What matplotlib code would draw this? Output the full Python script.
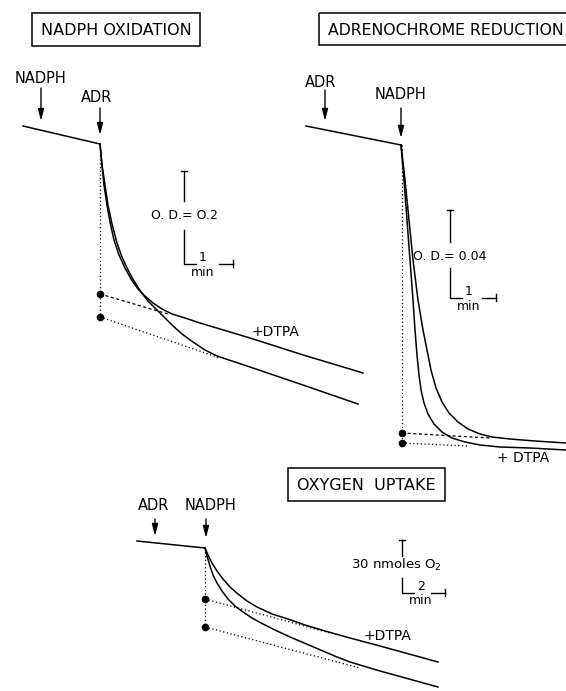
import numpy as np
import matplotlib.pyplot as plt
from matplotlib.patches import Rectangle

# Trace points (drawing units = pixels, y down)
# Panel 1: NADPH oxidation
p1_base_x = [23, 100]
p1_base_y = [126, 144]
p1_dtpa_x = [100, 102, 104, 107, 110, 114, 119, 125, 131, 138, 145, 153, 162, 172, 185, 200, 250, 300, 363]
p1_dtpa_y = [144, 165, 185, 205, 222, 240, 255, 268, 279, 289, 296, 303, 309, 314, 318, 323, 338, 354, 373]
p1_ctrl_x = [100, 102, 105, 108, 112, 117, 122, 128, 134, 141, 148, 155, 163, 172, 182, 193, 205, 217, 235, 250, 300, 358]
p1_ctrl_y = [144, 165, 185, 205, 224, 243, 257, 270, 281, 292, 301, 308, 316, 325, 334, 342, 350, 356, 362, 367, 384, 404]
p1_dots_y = [294, 317]

# Panel 2: adrenochrome reduction
p2_base_x = [306, 401]
p2_base_y = [126, 145]
p2_a_x = [401, 404, 407, 410, 413, 415, 417, 419, 421, 424, 428, 434, 442, 452, 465, 480, 500, 530, 566]
p2_a_y = [145, 180, 220, 260, 300, 330, 355, 375, 390, 403, 414, 424, 432, 438, 442, 445, 447, 448, 450]
p2_b_x = [401, 405, 409, 413, 418, 423, 427, 431, 436, 442, 449, 458, 468, 480, 492, 510, 535, 566]
p2_b_y = [145, 180, 220, 260, 300, 330, 350, 370, 388, 402, 413, 422, 429, 434, 437, 439, 441, 443]
p2_dots_y = [433, 443]

# Panel 3: oxygen uptake
p3_base_x = [137, 205]
p3_base_y = [541, 548]
p3_dtpa_x = [205, 208, 212, 217, 223, 230, 238, 247, 257, 272, 288, 305, 325, 350, 380, 438]
p3_dtpa_y = [548, 555, 563, 571, 579, 587, 594, 601, 607, 614, 619, 625, 631, 638, 646, 662]
p3_ctrl_x = [205, 207, 210, 213, 217, 222, 228, 235, 243, 252, 262, 275, 290, 310, 323, 337, 350, 380, 438]
p3_ctrl_y = [548, 556, 566, 575, 583, 591, 599, 606, 612, 618, 623.5, 630, 637, 645.5, 651, 657, 662, 671, 687]
p3_dots_y = [599, 627]

fig = plt.figure(figsize=(5.66, 6.91), dpi=100)
ax = fig.add_axes([0, 0, 1, 1])
ax.set_xlim(0, 566)
ax.set_ylim(691, 0)
ax.axis('off')

lw = 1.1
dot = (0, (1, 2))
dash = (0, (2.5, 2))
font = 'DejaVu Sans'


def trace(x, y):
    ax.plot(x, y, color='black', lw=lw, solid_joinstyle='round')


def arrow(x, y0, y1):
    ax.annotate('', xy=(x, y1), xytext=(x, y0),
                arrowprops=dict(arrowstyle='-|>,head_width=0.18,head_length=0.7',
                                color='black', lw=1.0, shrinkA=0, shrinkB=0))


def title_box(x0, y0, x1, y1, text, fs=11.5, tx=None):
    ax.add_patch(Rectangle((x0, y0), x1 - x0, y1 - y0, fill=False,
                           ec='black', lw=1.1, clip_on=True))
    if tx is None:
        ax.text((x0 + x1) / 2, (y0 + y1) / 2 + 1, text, ha='center', va='center',
                fontsize=fs, family=font)
    else:
        ax.text(tx, (y0 + y1) / 2 + 1, text, ha='left', va='center',
                fontsize=fs, family=font)


def label(x, y, text, fs=10.5):
    ax.text(x, y, text, ha='center', va='center', fontsize=fs, family=font)


def scale_bar(x, ytop, ymid1, ymid2, ybot, xend, text, unit, txt_y, fs=9):
    ax.plot([x - 3, x + 3], [ytop, ytop], color='black', lw=1)
    ax.plot([x, x], [ytop, ymid1], color='black', lw=1)
    ax.plot([x, x, x + 12], [ymid2, ybot, ybot], color='black', lw=1)
    ax.plot([xend - 14, xend], [ybot, ybot], color='black', lw=1)
    ax.plot([xend, xend], [ybot - 4, ybot + 3], color='black', lw=1)
    if text:
        label(x, txt_y, text, fs)
    label(x + 19, ybot - 7, unit, fs)
    label(x + 19, ybot + 8, 'min', fs)


# ---- Panel 1
title_box(32, 13, 200, 46, 'NADPH OXIDATION')
label(40, 78, 'NADPH')
label(97, 97, 'ADR')
arrow(41, 88, 121)
arrow(100, 108, 135)
trace(p1_base_x, p1_base_y)
trace(p1_dtpa_x, p1_dtpa_y)
trace(p1_ctrl_x, p1_ctrl_y)
ax.plot([100, 100], [144, p1_dots_y[1]], color='black', lw=0.9, ls=dot)
ax.plot([100, 168], [p1_dots_y[0], 314], color='black', lw=0.9, ls=dash)
ax.plot([100, 220], [p1_dots_y[1], 358], color='black', lw=0.9, ls=dot)
ax.plot([100, 100], p1_dots_y, 'o', color='black', ms=4.5)
scale_bar(184, 171, 201, 230, 264, 233, 'O. D.= O.2', '1', 215)
label(275, 332, '+DTPA', 10)

# ---- Panel 2
title_box(319, 13, 575, 45, 'ADRENOCHROME REDUCTION', fs=11.3, tx=328)
label(321, 82, 'ADR')
label(400, 94, 'NADPH')
arrow(325, 90, 121)
arrow(401, 108, 138)
trace(p2_base_x, p2_base_y)
trace(p2_a_x, p2_a_y)
trace(p2_b_x, p2_b_y)
ax.plot([402, 402], [145, p2_dots_y[1]], color='black', lw=0.9, ls=dot)
ax.plot([402, 490], [p2_dots_y[0], 438], color='black', lw=0.9, ls=dash)
ax.plot([402, 467], [p2_dots_y[1], 446], color='black', lw=0.9, ls=dot)
ax.plot([402, 402], p2_dots_y, 'o', color='black', ms=4.5)
scale_bar(450, 210, 242, 268, 298, 496, 'O. D.= 0.04', '1', 256)
label(523, 458, '+ DTPA', 10)

# ---- Panel 3
title_box(288, 468, 445, 501, 'OXYGEN  UPTAKE')
label(154, 505, 'ADR')
label(210, 505, 'NADPH')
arrow(155, 519, 536)
arrow(206, 519, 538)
trace(p3_base_x, p3_base_y)
trace(p3_dtpa_x, p3_dtpa_y)
trace(p3_ctrl_x, p3_ctrl_y)
ax.plot([205, 205], [548, p3_dots_y[1]], color='black', lw=0.9, ls=dot)
ax.plot([205, 330], [p3_dots_y[0], 633], color='black', lw=0.9, ls=dot)
ax.plot([205, 360], [p3_dots_y[1], 668], color='black', lw=0.9, ls=dot)
ax.plot([205, 205], p3_dots_y, 'o', color='black', ms=4.5)
scale_bar(402, 540, 556, 578, 593, 445, '', '2', 565)
label(396, 565, r'30 nmoles O$_2$', 9.5)
label(387, 636, '+DTPA', 10)

fig.savefig('out.png', dpi=100)
